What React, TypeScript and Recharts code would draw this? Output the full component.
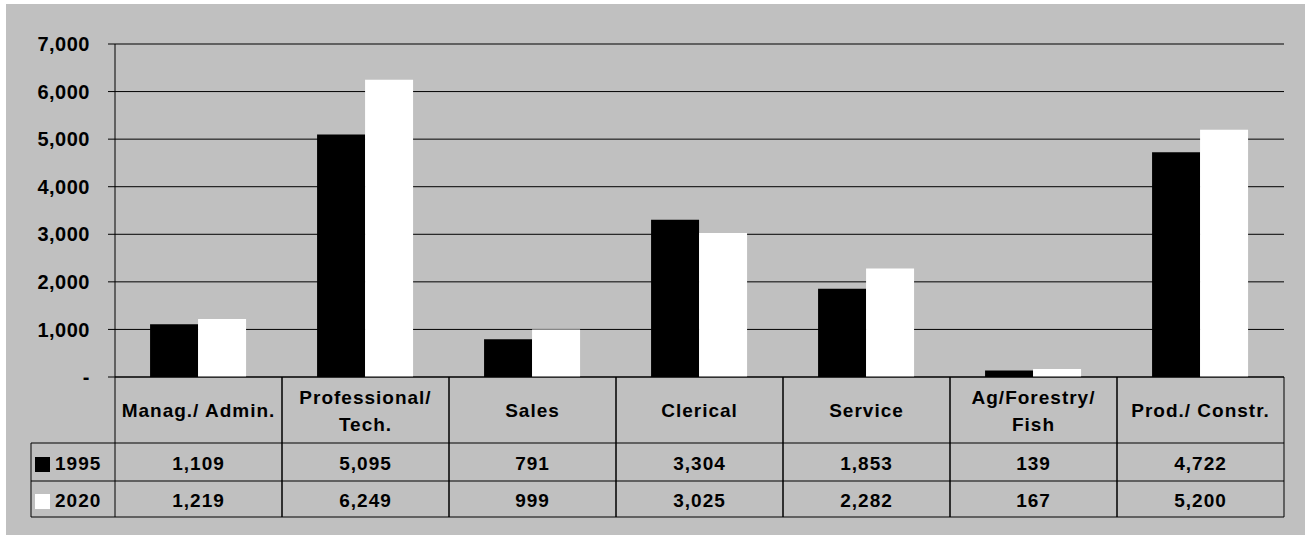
import React from "react";
import { BarChart, Bar, XAxis, YAxis, CartesianGrid } from "recharts";

// category labels, "\n" marks where the table header wraps
const categories = [
    "Manag./ Admin.",
    "Professional/\nTech.",
    "Sales",
    "Clerical",
    "Service",
    "Ag/Forestry/\nFish",
    "Prod./ Constr.",
];
const values1995 = [1109, 5095, 791, 3304, 1853, 139, 4722];
const values2020 = [1219, 6249, 999, 3025, 2282, 167, 5200];
const seriesNames = ["1995", "2020"];
const seriesColors = ["#000000", "#ffffff"];
const yTicks = [0, 1000, 2000, 3000, 4000, 5000, 6000, 7000];

const data = categories.map((c, i) => ({
    category: c,
    y1995: values1995[i],
    y2020: values2020[i],
}));
const rows = [values1995, values2020];

const FONT = '"Liberation Sans", Arial, sans-serif';
const fmt = (v: number) => (v === 0 ? "-" : v.toLocaleString("en-US"));

const HEADER_H = 66;
const ROW_BOTTOMS = [104, 140];
const ROW_BASELINES = [93, 130];
const TABLE_LEFT = 31;

const textStyle = {
    fontFamily: FONT,
    fontWeight: 700,
    fontSize: 19,
    fill: "#000",
    letterSpacing: 1,
};

function TableCell(props: any) {
    const { x, y, payload, index } = props;
    const half = payload && payload.offset ? payload.offset : 83.5;
    const left = x - half;
    const right = x + half;
    const lines = String(payload.value).split("\n");
    const lineGap = 27;
    const firstCenter = y + HEADER_H / 2 - ((lines.length - 1) * lineGap) / 2;

    return (
        <g>
            <line x1={left} y1={y} x2={left} y2={y + ROW_BOTTOMS[1]} stroke="#000" />
            <line x1={right} y1={y} x2={right} y2={y + ROW_BOTTOMS[1]} stroke="#000" />
            <line x1={left} y1={y + HEADER_H} x2={right} y2={y + HEADER_H} stroke="#000" />
            {ROW_BOTTOMS.map((b) => (
                <line key={b} x1={left} y1={y + b} x2={right} y2={y + b} stroke="#000" />
            ))}
            {lines.map((l, k) => (
                <text key={k} x={x} y={firstCenter + k * lineGap + 7} textAnchor="middle" style={textStyle}>
                    {l}
                </text>
            ))}
            {rows.map((r, k) => (
                <text key={"v" + k} x={x} y={y + ROW_BASELINES[k]} textAnchor="middle" style={textStyle}>
                    {fmt(r[index])}
                </text>
            ))}
            {index === 0 && (
                <g>
                    <line x1={TABLE_LEFT} y1={y + HEADER_H} x2={TABLE_LEFT} y2={y + ROW_BOTTOMS[1]} stroke="#000" />
                    <line x1={TABLE_LEFT} y1={y + HEADER_H} x2={left} y2={y + HEADER_H} stroke="#000" />
                    {ROW_BOTTOMS.map((b) => (
                        <line key={"l" + b} x1={TABLE_LEFT} y1={y + b} x2={left} y2={y + b} stroke="#000" />
                    ))}
                    {seriesNames.map((s, k) => (
                        <g key={s}>
                            <rect x={35} y={y + ROW_BASELINES[k] - 13} width={15} height={15} fill={seriesColors[k]} />
                            <text x={55} y={y + ROW_BASELINES[k]} textAnchor="start" style={textStyle}>
                                {s}
                            </text>
                        </g>
                    ))}
                </g>
            )}
        </g>
    );
}

export default function App() {
    return (
        <div style={{ position: "absolute", left: 0, top: 0, width: 1311, height: 535, background: "#fff" }}>
            <div style={{ position: "absolute", left: 6, top: 4, width: 1299, height: 531, background: "#c0c0c0" }} />
            <div style={{ position: "absolute", left: 0, top: 0 }}>
                <BarChart
                    width={1311}
                    height={535}
                    data={data}
                    margin={{ top: 44, right: 27, bottom: 18, left: 35 }}
                    barGap={0}
                    barCategoryGap="21%"
                >
                    <CartesianGrid vertical={false} stroke="#000" />
                    <XAxis
                        dataKey="category"
                        height={140}
                        axisLine={{ stroke: "#000" }}
                        tickLine={false}
                        tickSize={0}
                        tickMargin={0}
                        interval={0}
                        tick={(p: any) => <TableCell {...p} />}
                    />
                    <YAxis
                        width={80}
                        domain={[0, 7000]}
                        ticks={yTicks}
                        interval={0}
                        tickSize={7}
                        tickMargin={18}
                        axisLine={{ stroke: "#000" }}
                        tickLine={{ stroke: "#000" }}
                        tick={{ fill: "#000", fontSize: 20, fontWeight: 700, fontFamily: FONT, letterSpacing: 0.5 }}
                        tickFormatter={fmt}
                    />
                    <Bar dataKey="y1995" fill={seriesColors[0]} isAnimationActive={false} />
                    <Bar dataKey="y2020" fill={seriesColors[1]} isAnimationActive={false} />
                </BarChart>
            </div>
        </div>
    );
}
